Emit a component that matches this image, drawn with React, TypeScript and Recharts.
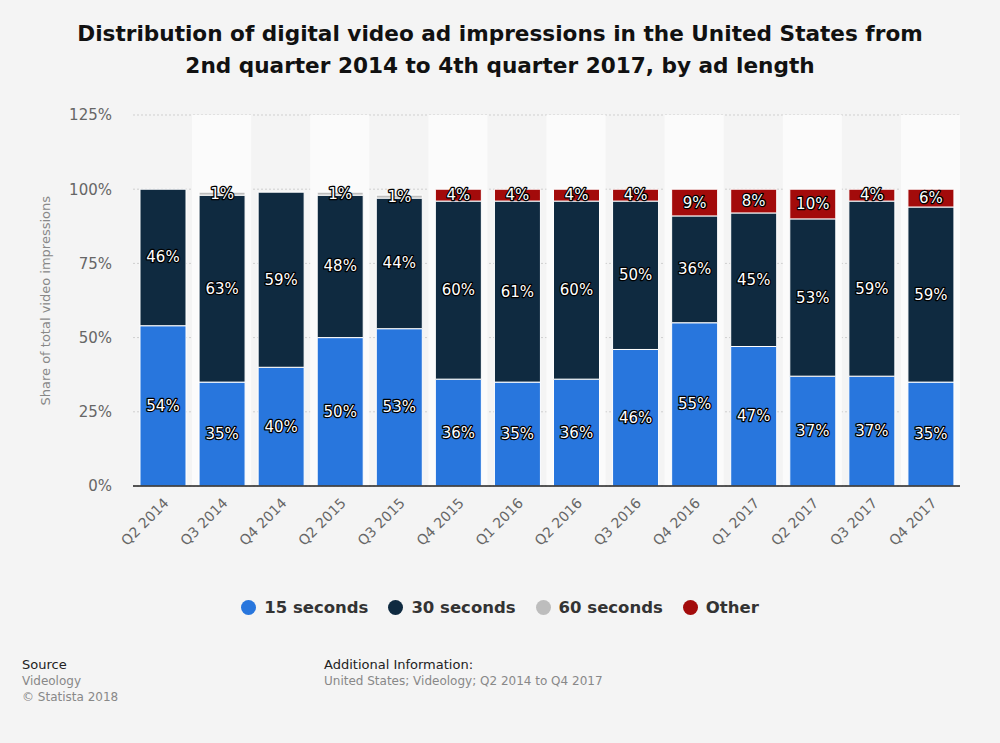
import React from 'react'
import {
  BarChart,
  Bar,
  XAxis,
  YAxis,
  CartesianGrid,
  LabelList,
  Legend,
  ReferenceArea,
} from 'recharts'

const quarters = [
  'Q2 2014', 'Q3 2014', 'Q4 2014', 'Q2 2015', 'Q3 2015', 'Q4 2015', 'Q1 2016',
  'Q2 2016', 'Q3 2016', 'Q4 2016', 'Q1 2017', 'Q2 2017', 'Q3 2017', 'Q4 2017',
]
const sec15 = [54, 35, 40, 50, 53, 36, 35, 36, 46, 55, 47, 37, 37, 35]
const sec30 = [46, 63, 59, 48, 44, 60, 61, 60, 50, 36, 45, 53, 59, 59]
const sec60 = [0, 1, 0, 1, 1, 0, 0, 0, 0, 0, 0, 0, 0, 0]
const other = [0, 0, 0, 0, 0, 4, 4, 4, 4, 9, 8, 10, 4, 6]
const yTicks = [0, 25, 50, 75, 100, 125]

const series = [
  { key: 'sec15', name: '15 seconds', color: '#2876dd' },
  { key: 'sec30', name: '30 seconds', color: '#0f2a40' },
  { key: 'sec60', name: '60 seconds', color: '#bdbdbd' },
  { key: 'other', name: 'Other', color: '#a30b0b' },
]

const data = quarters.map((q, i) => ({
  quarter: q,
  sec15: sec15[i],
  sec30: sec30[i],
  sec60: sec60[i],
  other: other[i],
}))

const FONT = '"DejaVu Sans", sans-serif'

function SegmentLabel(props: any) {
  const { x, y, width, height, value } = props
  if (!value) return null
  return (
    <text
      x={x + width / 2}
      y={y + height / 2}
      dy={5}
      textAnchor="middle"
      fill="#fff"
      stroke="#000"
      strokeWidth={2.5}
      paintOrder="stroke"
      strokeLinejoin="round"
      fontSize={15}
      fontFamily={FONT}
    >
      {value}%
    </text>
  )
}

function QuarterTick(props: any) {
  const { x, y, payload } = props
  return (
    <text
      x={x + 7}
      y={y + 10}
      textAnchor="end"
      fill="#666"
      fontSize={14}
      fontFamily={FONT}
      transform={`rotate(-45, ${x + 7}, ${y + 10})`}
    >
      {payload.value}
    </text>
  )
}

function LegendContent() {
  return (
    <div style={{ display: 'flex', justifyContent: 'center', gap: 20, fontFamily: FONT }}>
      {series.map((s) => (
        <div key={s.key} style={{ display: 'flex', alignItems: 'center', gap: 8 }}>
          <span style={{ width: 15, height: 15, borderRadius: 8, background: s.color, display: 'inline-block' }} />
          <span style={{ fontSize: 16.5, fontWeight: 'bold', color: '#333' }}>{s.name}</span>
        </div>
      ))}
    </div>
  )
}

export default function App() {
  return (
    <div style={{ position: 'absolute', left: 0, top: 0, width: 1000, height: 743, background: '#f4f4f4', fontFamily: FONT }}>
      <div style={{ position: 'absolute', top: 18, left: 0, width: 1000, textAlign: 'center', fontSize: 21.6, fontWeight: 'bold', color: '#111', lineHeight: '32px' }}>
        Distribution of digital video ad impressions in the United States from
        <br />
        2nd quarter 2014 to 4th quarter 2017, by ad length
      </div>
      <BarChart
        width={1000}
        height={743}
        data={data}
        margin={{ top: 115, right: 40, bottom: 177, left: 0 }}
        barSize={46}
        style={{ position: 'absolute', left: 0, top: 0 }}
      >
        {quarters.map((q, i) =>
          i % 2 === 1 ? (
            <ReferenceArea key={q} x1={q} x2={q} y1={0} y2={125} fill="#fbfbfb" fillOpacity={1} stroke="none" ifOverflow="visible" />
          ) : null
        )}
        <CartesianGrid vertical={false} stroke="#cfcfcf" strokeDasharray="2 2" />
        <XAxis
          dataKey="quarter"
          height={80}
          tickLine={false}
          axisLine={{ stroke: '#222', strokeWidth: 1.5 }}
          tick={<QuarterTick />}
          interval={0}
        />
        <YAxis
          width={133}
          domain={[0, 125]}
          ticks={yTicks}
          tickFormatter={(v) => `${v}%`}
          axisLine={false}
          tickLine={false}
          tickMargin={15}
          tick={{ fill: '#666', fontSize: 15, fontFamily: FONT }}
          label={{
            value: 'Share of total video impressions',
            angle: -90,
            position: 'insideLeft',
            offset: 45,
            dy: 105,
            style: { fill: '#888', fontSize: 13, fontFamily: FONT },
          }}
        />
        <Legend
          layout="horizontal"
          verticalAlign="middle"
          align="center"
          content={<LegendContent />}
          wrapperStyle={{ top: 598, left: 0, width: 1000 }}
        />
        {series.map((s) => (
          <Bar key={s.key} dataKey={s.key} name={s.name} stackId="a" fill={s.color} stroke="#fff" strokeWidth={1} isAnimationActive={false}>
            <LabelList dataKey={s.key} content={<SegmentLabel />} />
          </Bar>
        ))}
      </BarChart>
      <div style={{ position: 'absolute', left: 22, top: 657, fontSize: 13, lineHeight: '16px' }}>
        <div style={{ color: '#222' }}>Source</div>
        <div style={{ color: '#888', fontSize: 12 }}>Videology</div>
        <div style={{ color: '#888', fontSize: 12 }}>© Statista 2018</div>
      </div>
      <div style={{ position: 'absolute', left: 324, top: 657, fontSize: 13, lineHeight: '16px' }}>
        <div style={{ color: '#222' }}>Additional Information:</div>
        <div style={{ color: '#888', fontSize: 12 }}>United States; Videology; Q2 2014 to Q4 2017</div>
      </div>
    </div>
  )
}
